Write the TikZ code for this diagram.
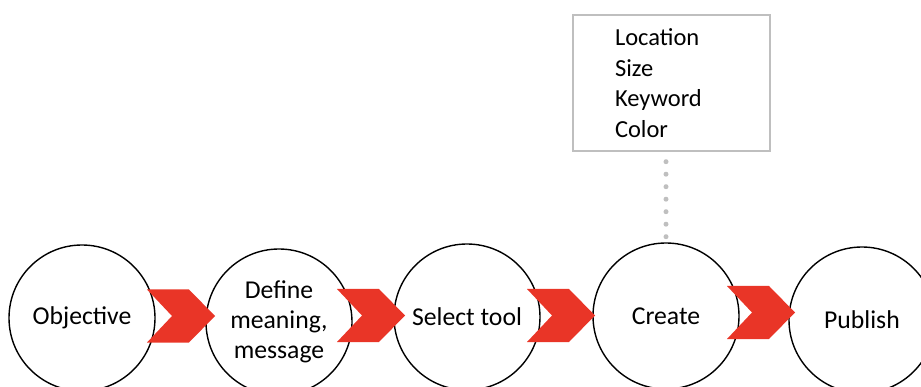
\documentclass[tikz,border=0pt]{standalone}
\usepackage{fontspec}
\setmainfont{Carlito}
\definecolor{chevred}{RGB}{233,53,39}
\definecolor{boxgray}{RGB}{191,191,191}
\tikzset{
  stage/.style={circle, draw=black, line width=1.4pt, fill=white,
    minimum size=146pt, inner sep=0pt, align=center,
    font=\fontsize{25.7}{30}\selectfont},
  notebox/.style={draw=boxgray, line width=1.4pt, fill=white,
    minimum width=197pt, minimum height=136pt, inner xsep=0pt,
    text width=113pt, align=left,
    font=\fontsize{24.5}{30.7}\selectfont},
  dotlink/.style={draw=boxgray, line width=5pt, line cap=round,
    dash pattern=on 0pt off 12.5pt},
  chevron/.pic={
    \fill[chevred] (0,-26.5) -- (42,-26.5) -- (68,0) -- (42,26.5)
      -- (0,26.5) -- (25,0) -- cycle;
  }
}
\begin{document}
\begin{tikzpicture}[x=1pt,y=-1pt]
\useasboundingbox (0,0) rectangle (921,387);

% process stages
\node[stage] (c1) at (82,318) {Objective};
\node[stage] (c2) at (279,322) {Define\\meaning,\\message};
\node[stage] (c3) at (467,317) {Select tool};
\node[stage] (c4) at (666,316) {Create};
\node[stage] (c5) at (862,320) {Publish};

% chevrons between the stages
\pic at (147,316) {chevron};
\pic at (337,315.5) {chevron};
\pic at (527,315.5) {chevron};
\pic at (727,312.5) {chevron};

% attributes of the "Create" step
\node[notebox] (attr) at (671.5,83) {Location\\Size\\Keyword\\Color};
\coordinate (attrfoot) at (c4.north |- attr.south);
\draw[dotlink, shorten <=10pt, shorten >=4pt] (attrfoot) -- (c4.north);
\end{tikzpicture}
\end{document}
